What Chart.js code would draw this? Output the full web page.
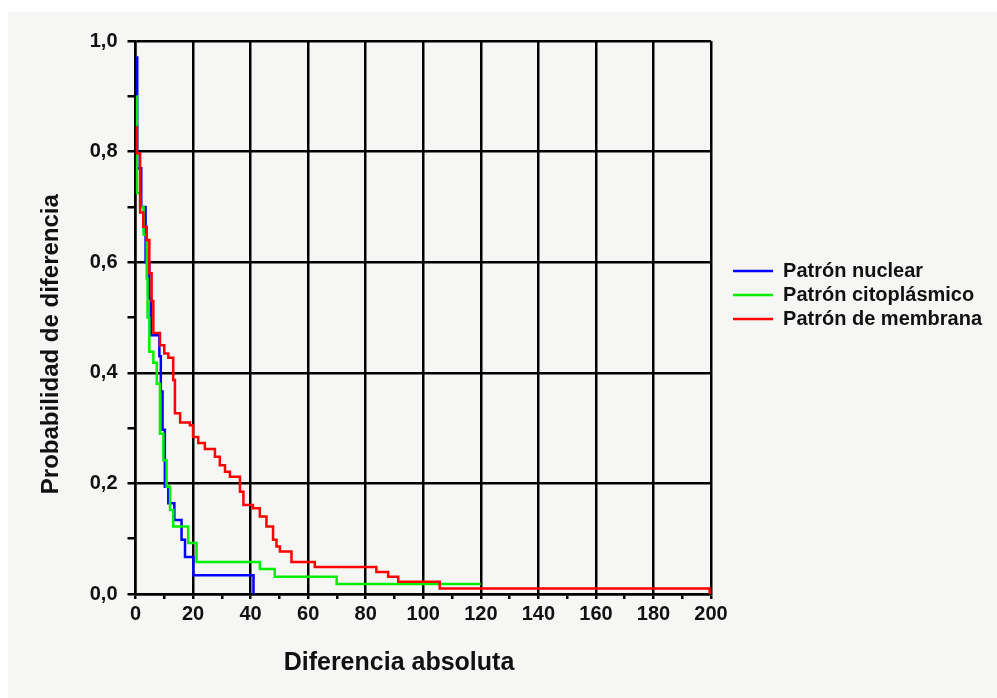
<!DOCTYPE html>
<html>
<head>
<meta charset="utf-8">
<script src="https://cdn.jsdelivr.net/npm/chart.js@4"></script>
<style>
  body { margin: 0; background: #ffffff; }
</style>
</head>
<body>
<canvas id="grafico" width="997" height="698"></canvas>
<script>
// datos (x = diferencia absoluta, y = probabilidad)
const nuclearX = [0.3, 0.6, 2.0, 3.5, 4.8, 5.3, 8.3, 8.8, 9.4, 10.2, 11.4, 13.5, 16.0, 17.2, 20.1, 41.0];
const nuclearY = [0.97, 0.77, 0.70, 0.60, 0.535, 0.468, 0.43, 0.366, 0.297, 0.194, 0.164, 0.134, 0.098, 0.067, 0.034, 0];

const citoX = [0.4, 0.5, 1.6, 2.8, 3.9, 4.2, 4.8, 6.2, 7.4, 8.5, 9.7, 10.8, 12.0, 13.1, 18.3, 21.2, 43.2, 48.4, 69.9, 120];
const citoY = [0.90, 0.725, 0.70, 0.65, 0.57, 0.50, 0.438, 0.418, 0.38, 0.29, 0.242, 0.194, 0.152, 0.122, 0.092, 0.058, 0.045, 0.031, 0.018, 0.018];

const membranaX = [0.4, 0.5, 1.6, 2.7, 3.9, 4.8, 5.6, 6.2, 8.5, 10.0, 11.4, 13.1, 13.7, 15.5, 18.9, 20.0, 21.8, 24.1, 27.6, 29.3, 31.1, 32.8, 36.3, 37.5, 40.8, 43.2, 45.5, 47.8, 49.0, 50.2, 54.2, 62.3, 83.7, 87.8, 91.3, 105.7, 199.5];
const membranaY = [0.845, 0.797, 0.69, 0.664, 0.64, 0.58, 0.53, 0.472, 0.45, 0.435, 0.427, 0.387, 0.327, 0.31, 0.305, 0.284, 0.273, 0.262, 0.248, 0.233, 0.221, 0.212, 0.185, 0.161, 0.155, 0.14, 0.122, 0.098, 0.086, 0.077, 0.058, 0.049, 0.040, 0.031, 0.022, 0.010, 0];

const series = ['Patrón nuclear', 'Patrón citoplásmico', 'Patrón de membrana'];
const colores = ['#0000ff', '#00ee00', '#ff0000'];

const puntos = (xs, ys) => xs.map((x, i) => ({ x: x, y: ys[i] }));

const fuente = '"Liberation Sans", Arial, sans-serif';

// fondo gris claro con margen blanco arriba e izquierda
const fondo = {
    id: 'fondo',
    beforeDraw(chart) {
        const ctx = chart.ctx;
        ctx.save();
        ctx.fillStyle = '#ffffff';
        ctx.fillRect(0, 0, chart.width, chart.height);
        ctx.fillStyle = '#f6f6f5';
        ctx.fillRect(8, 12, chart.width - 8, chart.height - 12);
        ctx.restore();
    }
};

const esMayorX = v => Math.round(v) % 20 === 0;
const esMayorY = v => Math.round(v * 10) % 2 === 0;

const chartConfig = {
    type: 'line',
    data: {
        datasets: [
            { label: series[0], data: puntos(nuclearX, nuclearY), borderColor: colores[0], backgroundColor: colores[0], order: 3 },
            { label: series[1], data: puntos(citoX, citoY), borderColor: colores[1], backgroundColor: colores[1], order: 2 },
            { label: series[2], data: puntos(membranaX, membranaY), borderColor: colores[2], backgroundColor: colores[2], order: 1 }
        ]
    },
    options: {
        responsive: false,
        animation: false,
        layout: { padding: { left: 33, top: 41, right: 5, bottom: 0 } },
        elements: {
            line: { stepped: true, borderWidth: 2.5, fill: false, tension: 0 },
            point: { radius: 0, borderWidth: 2.5 }
        },
        plugins: {
            tooltip: { enabled: false },
            legend: {
                position: 'right',
                align: 'start',
                reverse: true,
                maxWidth: 320,
                title: { display: true, text: '', font: { size: 10 }, padding: { top: 204, bottom: 0 } },
                labels: {
                    usePointStyle: true,
                    pointStyle: 'line',
                    pointStyleWidth: 40,
                    padding: 4,
                    color: '#111',
                    font: { family: fuente, size: 20, weight: 'bold' }
                }
            }
        },
        scales: {
            x: {
                type: 'linear',
                min: 0,
                max: 200,
                afterFit: scale => { scale.height = 104; },
                ticks: {
                    stepSize: 10,
                    autoSkip: false,
                    maxRotation: 0,
                    padding: 3,
                    color: '#111',
                    font: { family: fuente, size: 20, weight: 'bold' },
                    callback: v => esMayorX(v) ? String(v) : ''
                },
                grid: {
                    color: ctx => esMayorX(ctx.tick.value) ? '#000' : 'rgba(0,0,0,0)',
                    lineWidth: 2.5,
                    tickColor: '#000',
                    tickLength: 5
                },
                border: { color: '#000', width: 2.5 },
                title: {
                    display: true,
                    text: 'Diferencia absoluta       ',
                    color: '#111',
                    font: { family: fuente, size: 25, weight: 'bold' },
                    padding: { top: 4, bottom: 20 }
                }
            },
            y: {
                min: 0,
                max: 1,
                afterFit: scale => { scale.width = 102.5; },
                ticks: {
                    stepSize: 0.1,
                    autoSkip: false,
                    padding: 10,
                    color: '#111',
                    font: { family: fuente, size: 20, weight: 'bold' },
                    callback: v => esMayorY(v) ? v.toFixed(1).replace('.', ',') : ''
                },
                grid: {
                    color: ctx => esMayorY(ctx.tick.value) ? '#000' : 'rgba(0,0,0,0)',
                    lineWidth: 2.5,
                    tickColor: '#000',
                    tickLength: 8
                },
                border: { color: '#000', width: 2.5 },
                title: {
                    display: true,
                    text: 'Probabilidad de diferencia        ',
                    color: '#111',
                    font: { family: fuente, size: 24, weight: 'bold' },
                    padding: { top: 4, bottom: 4 }
                }
            },
            // eje vacio: solo deja hueco entre el grafico y la leyenda
            hueco: {
                type: 'linear',
                position: 'right',
                min: 0,
                max: 1,
                afterFit: scale => { scale.width = 18; },
                ticks: { display: false },
                grid: { display: false },
                border: { display: false }
            }
        }
    },
    plugins: [fondo]
};

const chart = new Chart(document.querySelector('#grafico'), chartConfig);
</script>
</body>
</html>
